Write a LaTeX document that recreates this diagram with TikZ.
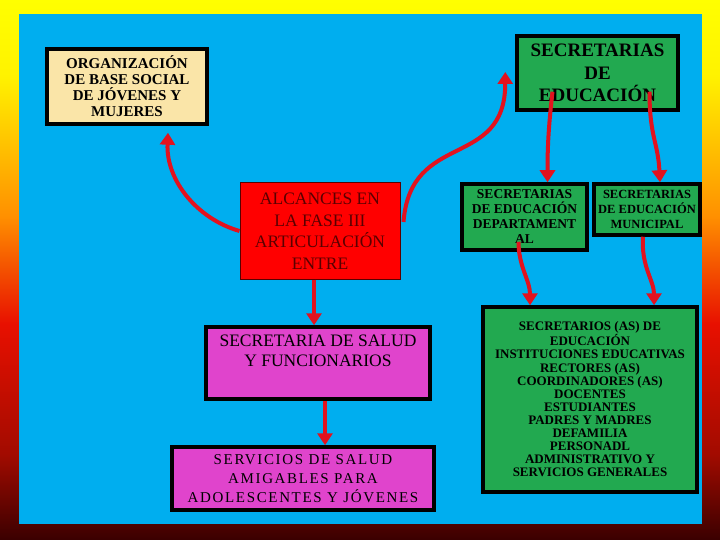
\documentclass[tikz,border=0pt]{standalone}
\usepackage{fontspec}
\setmainfont{Liberation Serif}
\newfontfamily\spacedfont[LetterSpace=11]{Liberation Serif}
\usepackage{xcolor}
\usepackage{tikz}
\usetikzlibrary{arrows.meta,calc}
\definecolor{bgblue}{HTML}{00AEEF}
\definecolor{boxgreen}{HTML}{22A950}
\definecolor{boxpink}{HTML}{E044CC}
\definecolor{boxbeige}{HTML}{FAE5A8}
\definecolor{arrred}{HTML}{E3121E}
\definecolor{txtred}{HTML}{5A0000}
\definecolor{frdark}{HTML}{3A0000}
\definecolor{frred}{HTML}{E81000}
\definecolor{frorange}{HTML}{FF9000}
\pgfdeclareverticalshading{framefill}{100bp}{color(0bp)=(frdark); color(25bp)=(frdark);
  color(33bp)=(frred!70!black); color(45bp)=(frred); color(55bp)=(frorange);
  color(68bp)=(yellow!90!orange); color(75bp)=(yellow); color(100bp)=(yellow)}

\begin{document}
\begin{tikzpicture}[x=1pt,y=-1pt, box/.style={draw=black,line width=3.5pt,align=center,inner sep=0pt},
  gbox/.style={box,fill=boxgreen,font=\bfseries\fontsize{13.5}{15}\selectfont},
  arr/.style={draw=arrred,line width=4pt,-{Triangle[width=15pt,length=12pt]}}]
\shade[shading=framefill] (0,0) rectangle (720,540);
\fill[bgblue] (19,14) rectangle (702,524);
\node[box,fill=boxbeige,minimum width=160,minimum height=75,font=\bfseries\fontsize{15}{16}\selectfont]
  (org) at (127,86.5) {ORGANIZACIÓN\\DE BASE SOCIAL\\DE JÓVENES Y\\MUJERES};
\node[box,fill=boxgreen,minimum width=161,minimum height=74,font=\bfseries\fontsize{19}{22.5}\selectfont]
  (sec) at (597.5,73) {SECRETARIAS\\DE\\EDUCACIÓN};
\node[box,line width=1pt,draw=txtred,fill=red,text=txtred,minimum width=160,minimum height=96,
  font=\fontsize{17.5}{21.5}\selectfont] (alc) at (320,231) {ALCANCES EN\\LA FASE III\\ARTICULACIÓN\\ENTRE};
\node[gbox,minimum width=125,minimum height=66] (dep) at (524.5,217) {SECRETARIAS\\DE EDUCACIÓN\\DEPARTAMENT\\AL};
\node[gbox,minimum width=106,minimum height=51,font=\bfseries\fontsize{12.5}{15}\selectfont]
  (mun) at (647,209.5) {SECRETARIAS\\DE EDUCACIÓN\\MUNICIPAL};
\node[box,fill=boxpink,minimum width=224,minimum height=72,text depth=24pt,
  font=\fontsize{17.5}{20}\selectfont] (salud) at (318,363) {SECRETARIA DE SALUD\\Y FUNCIONARIOS};
\node[box,fill=boxpink,minimum width=262,minimum height=63,font=\spacedfont\fontsize{15}{19}\selectfont]
  (serv) at (303,478.5) {SERVICIOS DE SALUD\\AMIGABLES PARA\\ADOLESCENTES Y JÓVENES};
\node[box,fill=boxgreen,minimum width=214,minimum height=185,font=\bfseries\fontsize{13}{13.1}\selectfont]
  (big) at (590,399.5) {SECRETARIOS (AS) DE\\EDUCACIÓN\\INSTITUCIONES EDUCATIVAS\\RECTORES (AS)\\
  COORDINADORES (AS)\\DOCENTES\\ESTUDIANTES\\PADRES Y MADRES\\DEFAMILIA\\PERSONADL\\
  ADMINISTRATIVO Y\\SERVICIOS GENERALES};
% flechas
\draw[arr] (alc.west) .. controls +(-42,-12) and +(-2,48) .. ($(org.south)+(41,7)$);
\draw[arr] ($(alc.east)+(3,-9)$) .. controls +(7,-92) and +(0,98) .. ($(sec.west)+(-10,-1)$);
\draw[arr] ($(sec.south)+(-45,-20)$) .. controls +(-4,35) and +(0,-35) .. ($(dep.north)+(23,0)$);
\draw[arr] ($(sec.south)+(52,-20)$) .. controls +(0,45) and +(-2,-40) .. ($(mun.north)+(13,0)$);
\draw[arr] ($(dep.south)+(-6,-10)$) .. controls +(0,25) and +(0,-25) .. ($(big.north)+(-60,0)$);
\draw[arr] ($(mun.south)+(-4,0)$) .. controls +(-2,30) and +(0,-25) .. ($(big.north)+(64,0)$);
\draw[arr] ($(alc.south)+(-6,0)$) -- ($(salud.north)+(-4,0)$);
\draw[arr] ($(salud.south)+(7,0)$) -- ($(serv.north)+(22,0)$);
\end{tikzpicture}
\end{document}
